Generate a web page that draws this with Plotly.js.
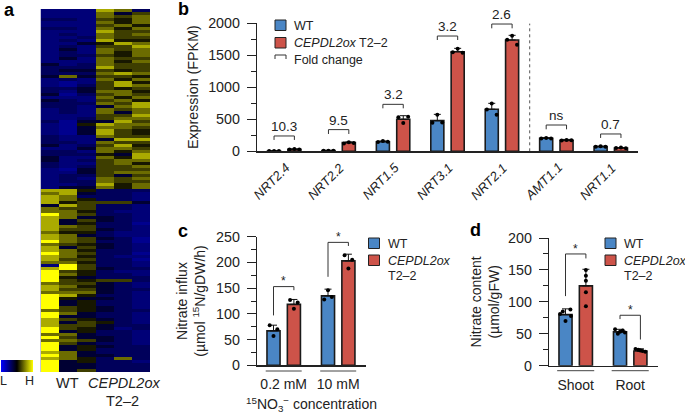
<!DOCTYPE html>
<html><head><meta charset="utf-8">
<script src="https://cdn.plot.ly/plotly-3.0.1.min.js"></script>
<style>html,body{margin:0;padding:0;background:#fff}#p{width:685px;height:415px}</style>
</head><body><div id="p"></div>
<script>
// ---------- DATA ----------
// Panel a: one string per row, one digit (0 = low, 9 = high) per sample
const heatRowsTop = ["222873","222746","222767","332657","222757","222675","332757","222866","232767","223766","232855","224587","232668","242767","232757","233657","242766","222757","423766","333866","344656","333787","474665","232757","212685","213687","334656","324775","413676","222757","432675","333768","332478","232767","232747","222668","223677","314486","215877","214776","214865","214865","322766","322488","332766","423685","224776","332757","333548","422758","423677","322675","323667","214666","224677","233646","232767","233766","223857","244757"];
const heatRowsBottom = ["885333","784332","873332","875332","856664","486332","766332","775322","976332","874432","846432","845331","876332","866432","755322","874322","876431","976331","765432","846432","875332","976331","875322","866331","775332","296332","896433","965322","975332","954333","965663","766432","875432","866433","777432","985332","954432","945332","945332","965432","765433","974332","944332","865432","846532","866433","965423","945332","774332","964432","776432","964332","945433","945333","874333","974433","875373","945332","944333","944333","946333"];
const heatLevels = [1.0,2.0,2.4,2.9,3.6,4.9,5.6,6.4,7.5,9.0];

// Panel b
const genes = ["NRT2.4","NRT2.2","NRT1.5","NRT3.1","NRT2.1","AMT1.1","NRT1.1"];
const bWT = [5,10,150,478,655,203,73];
const bOX = [30,135,499,1553,1735,171,52];
const bWTerr = [3,4,12,98,93,10,6];
const bOXerr = [6,12,56,52,73,14,6];
const bWTdots = [[5,5,5],[10,10,10],[145,160,150],[445,570,450],[650,745,570],[200,207,200],[72,78,70]];
const bOXdots = [[28,35,28],[120,142,130],[530,440,540],[1545,1600,1535],[1740,1800,1660],[170,178,172],[50,60,48]];
const bBracketTop = [239,338,732,1797,1984,410,270];
const bBracketFoot = [177,270,670,1735,1917,343,208];
const bLabels = ["10.3","9.5","3.2","3.2","2.6","ns","0.7"];

// Panel c
const cGroups = ["0.2 mM","10 mM"];
const cWT = [67,135];
const cOX = [118.5,203];
const cWTerr = [11,13];
const cOXerr = [9.5,13];
const cWTdots = [[78,57,70],[128,146,133]];
const cOXdots = [[127,110,122],[214,188,205]];
const cBracketLeft = [97,172];
const cBracketTop = [153,239];
const cBracketRight = [146,232];
const cStarY = [164,249];

// Panel d
const dGroups = ["Shoot","Root"];
const dWT = [80,53];
const dOX = [125,23];
const dWTerr = [9,4];
const dOXerr = [26,3.5];
const dWTdots = [[88,85,81,78,70],[57,55,53,52,50]];
const dOXdots = [[150,141,133,115,93],[26,25,24,23,22]];
const dBracketLeft = [109,73];
const dBracketTop = [175,79];
const dBracketRight = [168,41];
const dStarY = [182,87];

// ---------- STYLE ----------
const W = 685, H = 415;
const FONT = "Liberation Sans, Arial, sans-serif";
const INK = "#222222", BLUE = "#4a86c5", RED = "#cd5349";
const OFF = 0.187, BARW = 0.24;
const px = v => v / W, py = v => 1 - v / H;

const traces = [], shapes = [], annotations = [];

function note(x, y, text, size, extra) {
  annotations.push(Object.assign({xref:"paper", yref:"paper", x:px(x), y:py(y), text:text, showarrow:false,
    font:{family:FONT, size:size, color:INK}, xanchor:"left", yanchor:"middle"}, extra || {}));
}
function bars(xa, ya, vals, errs, color, sign) {
  traces.push({type:"bar", xaxis:xa, yaxis:ya, x:vals.map((_, i) => i + sign * OFF), y:vals, width:BARW,
    marker:{color:color, line:{color:"#1a1a1a", width:1.6}}, showlegend:false, hoverinfo:"y",
    error_y:{type:"data", symmetric:false, array:errs, arrayminus:errs.map(() => 0), color:"#111", thickness:1, width:3.5}});
}
function dots(xa, ya, sets, sign, fan) {
  const xs = [], ys = [];
  sets.forEach((set, i) => set.forEach((v, k) => { xs.push(i + sign * OFF + fan[i][k]); ys.push(v); }));
  traces.push({type:"scatter", mode:"markers", xaxis:xa, yaxis:ya, x:xs, y:ys, cliponaxis:false, showlegend:false,
    hoverinfo:"skip", marker:{color:"#000", size:4}});
}
function bracket(xa, ya, i, left, top, right) {
  traces.push({type:"scatter", mode:"lines", xaxis:xa, yaxis:ya, x:[i-OFF, i-OFF, i+OFF, i+OFF], y:[left, top, top, right],
    cliponaxis:false, showlegend:false, hoverinfo:"skip", line:{color:"#333", width:1}});
}
function swatch(x, y, color) {
  shapes.push({type:"rect", xref:"paper", yref:"paper", x0:px(x), x1:px(x+11), y0:py(y), y1:py(y+10.5),
    fillcolor:color, line:{color:"#222", width:1}});
}
function yAxis(dom, range, major, minor) {
  return {domain:[py(dom[1]), py(dom[0])], range:range, dtick:major, tick0:0, ticks:"outside", ticklen:9, tickwidth:1, tickcolor:INK,
    ticklabelstandoff:4,
    minor:{dtick:minor, ticks:"outside", ticklen:5, tickwidth:1, tickcolor:INK},
    showline:true, linecolor:INK, linewidth:1.2, showgrid:false, zeroline:false,
    tickfont:{family:FONT, size:14.3, color:INK}};
}
function xAxis(dom, range, vals, text, anchor) {
  return {domain:[px(dom[0]), px(dom[1])], range:range, anchor:anchor, tickmode:"array", tickvals:vals, ticktext:text,
    ticks:"outside", ticklen:6, tickcolor:"rgba(0,0,0,0)", showline:true, linecolor:INK, linewidth:1.2, showgrid:false, zeroline:false,
    tickfont:{family:FONT, size:14, color:INK}};
}

// ---------- PANEL A ----------
const heatZ = heatRowsTop.concat(heatRowsBottom).map(r => r.split("").map(d => heatLevels[+d]));
traces.push({type:"heatmap", xaxis:"x4", yaxis:"y4", z:heatZ, zmin:0, zmax:9, hoverinfo:"z",
  colorscale:[[0,"#0000ff"],[0.5,"#000000"],[1,"#ffff00"]],
  colorbar:{orientation:"h", x:px(1), xanchor:"left", y:py(372), yanchor:"bottom", len:32, lenmode:"pixels", thickness:12, thicknessmode:"pixels",
    xpad:0, ypad:0, outlinewidth:0, showticklabels:false, ticks:"", tickmode:"array", tickvals:[]}});
shapes.push({type:"line", xref:"paper", yref:"paper", x0:px(40.5), x1:px(40.5), y0:py(9), y1:py(372), line:{color:"#c4c4dc", width:1}});
note(3, 381, "L", 12.5, {xanchor:"center"});
note(29.5, 381, "H", 12.5, {xanchor:"center"});
note(67.5, 383, "WT", 14.5, {xanchor:"center"});
note(124, 383, "<i>CEPDL2ox</i>", 14.5, {xanchor:"center"});
note(122.5, 401, "T2–2", 14.5, {xanchor:"center"});

// ---------- PANEL B ----------
const fan3 = genes.map(() => [-0.09, 0, 0.09]);
bars("x", "y", bWT, bWTerr, BLUE, -1);
bars("x", "y", bOX, bOXerr, RED, 1);
dots("x", "y", bWTdots, -1, fan3);
dots("x", "y", bOXdots, 1, fan3);
genes.forEach((g, i) => {
  bracket("x", "y", i, bBracketFoot[i], bBracketTop[i], bBracketFoot[i]);
  annotations.push({xref:"x", yref:"y", x:i, y:bBracketTop[i], text:bLabels[i], showarrow:false, yanchor:"bottom", yshift:0,
    font:{family:FONT, size:13.5, color:INK}});
  annotations.push({xref:"x", yref:"paper", x:i, y:py(181), xshift:-13, text:"<i>" + g + "</i>", showarrow:false, textangle:-45,
    xanchor:"center", yanchor:"middle", font:{family:FONT, size:13, color:INK}});
});
shapes.push({type:"line", xref:"x", yref:"y", x0:4.51, x1:4.51, y0:0, y1:1990, line:{color:"#555", width:1, dash:"dot"}});
swatch(275, 20, BLUE); swatch(275, 37.5, RED);
shapes.push({type:"path", xref:"paper", yref:"paper", line:{color:"#333", width:1},
  path:`M${px(275)},${py(59)} L${px(275)},${py(55)} L${px(286)},${py(55)} L${px(286)},${py(59)}`});
note(292, 25.5, "WT", 12.5);
note(292, 43, "<i>CEPDL2ox</i> T2–2", 12.5);
note(292, 60, "Fold change", 12.5);

// ---------- PANEL C ----------
const fanC = [[-0.07,0,0.07],[-0.07,0,0.07]];
bars("x2", "y2", cWT, cWTerr, BLUE, -1);
bars("x2", "y2", cOX, cOXerr, RED, 1);
dots("x2", "y2", cWTdots, -1, fanC);
dots("x2", "y2", cOXdots, 1, fanC);
cGroups.forEach((g, i) => {
  bracket("x2", "y2", i, cBracketLeft[i], cBracketTop[i], cBracketRight[i]);
  annotations.push({xref:"x2", yref:"y2", x:i, y:cStarY[i], text:"*", showarrow:false, font:{family:FONT, size:12, color:INK}});
  shapes.push({type:"line", xref:"x2", yref:"paper", x0:i-0.33, x1:i+0.33, y0:py(371), y1:py(371), line:{color:"#444", width:1}});
});
swatch(368.5, 238, BLUE); swatch(368.5, 255, RED);
note(386, 244, "WT", 12.5);
note(386, 260.5, "<i>CEPDL2ox</i>", 12.5);
note(386, 275.5, "T2–2", 12.5);

// ---------- PANEL D ----------
const fanD = [[0.09,-0.05,-0.1,0.1,0],[-0.09,0.05,0,0.09,-0.04]];
const fanDR = [[0,0,0,0,0],[-0.09,-0.04,0,0.04,0.09]];
bars("x3", "y3", dWT, dWTerr, BLUE, -1);
bars("x3", "y3", dOX, dOXerr, RED, 1);
dots("x3", "y3", dWTdots, -1, fanD);
dots("x3", "y3", dOXdots, 1, fanDR);
dGroups.forEach((g, i) => {
  bracket("x3", "y3", i, dBracketLeft[i], dBracketTop[i], dBracketRight[i]);
  annotations.push({xref:"x3", yref:"y3", x:i, y:dStarY[i], text:"*", showarrow:false, font:{family:FONT, size:12, color:INK}});
  shapes.push({type:"line", xref:"x3", yref:"paper", x0:i-0.34, x1:i+0.34, y0:py(370.7), y1:py(370.7), line:{color:"#444", width:1}});
});
swatch(605, 238, BLUE); swatch(605, 255, RED);
note(622, 244, "WT", 12.5);
note(622, 260.5, "<i>CEPDL2ox</i>", 12.5);
note(622, 276, "T2–2", 12.5);

// ---------- PANEL LETTERS ----------
[["a",2,10],["b",176,9],["c",176,231],["d",468,230]].forEach(l =>
  note(l[1], l[2], "<b>" + l[0] + "</b>", 18, {font:{family:FONT, size:18, color:"#000"}}));

// ---------- LAYOUT ----------
const yb = yAxis([23,151.3],[0,2000],500,250);
yb.anchor = "x";
yb.title = {text:"Expression (FPKM)", standoff:6, font:{family:FONT, size:14.3, color:INK}};
const xb = xAxis([257,638],[-0.5,6.5],genes.map((_, i) => i),genes,"y");
xb.showticklabels = false; xb.ticks = "";

const yc = yAxis([236.7,365.3],[0,250],50,25);
yc.anchor = "x2";
yc.title = {text:"Nitrate influx<br>(µmol <sup>15</sup>N/gDW/h)", standoff:7, font:{family:FONT, size:14, color:INK}};
const xc = xAxis([257,366],[-0.49,1.51],[0,1],cGroups,"y2");
xc.title = {text:"<sup>15</sup>NO<sub>3</sub><sup>−</sup> concentration", standoff:8, font:{family:FONT, size:14, color:INK}};

const yd = yAxis([238,365.7],[0,200],50,25);
yd.anchor = "x3";
yd.title = {text:"Nitrate content<br>(µmol/gFW)", standoff:5, font:{family:FONT, size:14, color:INK}};
const xd = xAxis([549,658],[-0.49,1.51],[0,1],dGroups,"y3");

Plotly.newPlot("p", traces, {
  width:W, height:H, margin:{l:0, r:0, t:0, b:0, pad:0}, paper_bgcolor:"#fff", plot_bgcolor:"rgba(0,0,0,0)",
  barmode:"overlay", showlegend:false, font:{family:FONT, color:INK},
  xaxis:xb, yaxis:yb, xaxis2:xc, yaxis2:yc, xaxis3:xd, yaxis3:yd,
  xaxis4:{domain:[px(40.5), px(150)], range:[-0.5,5.5], anchor:"y4", visible:false},
  yaxis4:{domain:[py(372), py(9)], range:[120.5,-0.5], anchor:"x4", visible:false},
  shapes:shapes, annotations:annotations
}, {displayModeBar:false, staticPlot:true});
</script></body></html>
